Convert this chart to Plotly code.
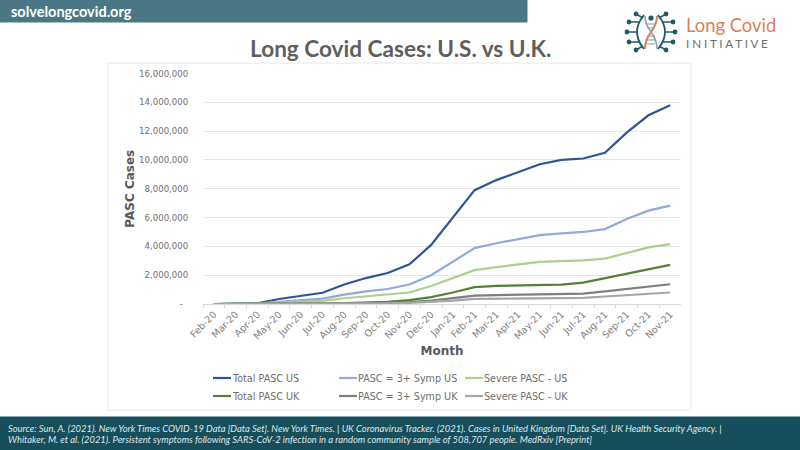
import plotly.graph_objects as go

months = ["Feb-20", "Mar-20", "Apr-20", "May-20", "Jun-20", "Jul-20", "Aug-20", "Sep-20",
          "Oct-20", "Nov-20", "Dec-20", "Jan-21", "Feb-21", "Mar-21", "Apr-21", "May-21",
          "Jun-21", "Jul-21", "Aug-21", "Sep-21", "Oct-21", "Nov-21"]

total_us = [0, 5000, 40000, 350000, 550000, 780000, 1350000, 1800000, 2150000, 2750000, 4100000,
            6000000, 7900000, 8600000, 9150000, 9700000, 10000000, 10100000, 10500000, 11900000,
            13100000, 13800000]
symp_us = [0, 2000, 20000, 150000, 250000, 370000, 650000, 880000, 1040000, 1350000, 2000000,
           2950000, 3880000, 4220000, 4480000, 4780000, 4900000, 5000000, 5200000, 5900000,
           6480000, 6830000]
severe_us = [0, 1000, 10000, 90000, 150000, 220000, 400000, 540000, 640000, 800000, 1250000,
             1800000, 2350000, 2560000, 2720000, 2920000, 2970000, 3030000, 3150000, 3560000,
             3930000, 4150000]
total_uk = [0, 0, 5000, 20000, 40000, 50000, 60000, 90000, 150000, 270000, 480000, 800000,
            1170000, 1260000, 1300000, 1300000, 1350000, 1480000, 1800000, 2100000, 2400000,
            2720000]
symp_uk = [0, 0, 2000, 10000, 20000, 25000, 30000, 45000, 75000, 130000, 240000, 400000, 580000,
           620000, 640000, 640000, 660000, 720000, 880000, 1030000, 1180000, 1370000]
severe_uk = [0, 0, 1000, 5000, 10000, 15000, 18000, 25000, 45000, 80000, 140000, 240000, 350000,
             370000, 380000, 380000, 390000, 430000, 520000, 600000, 700000, 800000]

y_ticks = [0, 2000000, 4000000, 6000000, 8000000, 10000000, 12000000, 14000000, 16000000]
y_labels = ["-\u00a0\u00a0", "2,000,000", "4,000,000", "6,000,000", "8,000,000", "10,000,000", "12,000,000",
            "14,000,000", "16,000,000"]

series = [("Total PASC US", total_us, "#2f5597"),
          ("PASC = 3+ Symp US", symp_us, "#8faadc"),
          ("Severe PASC - US", severe_us, "#a9d18e"),
          ("Total PASC UK", total_uk, "#548235"),
          ("PASC = 3+ Symp UK", symp_uk, "#7f7f7f"),
          ("Severe PASC - UK", severe_uk, "#a6a6a6")]

W, H = 800, 450
GREY = "#7f7f7f"
TEAL = "#174e5b"
ORANGE = "#d9805a"
LOGO = "#1f5a66"


def px(x):
    return x / W


def py(y):
    return 1 - y / H


def rect(x0, y0, x1, y1, fill, line=None):
    return dict(type="rect", xref="paper", yref="paper", x0=px(x0), x1=px(x1), y0=py(y0), y1=py(y1),
                fillcolor=fill, line=dict(color=line or fill, width=1), layer="below")


def seg(x0, y0, x1, y1, color, width=2):
    return dict(type="line", xref="paper", yref="paper", x0=px(x0), x1=px(x1), y0=py(y0), y1=py(y1),
                line=dict(color=color, width=width))


def dot(x, y, r, color):
    return dict(type="circle", xref="paper", yref="paper", x0=px(x - r), x1=px(x + r),
                y0=py(y + r), y1=py(y - r), fillcolor=color, line=dict(color=color, width=0))


def curve(points, color, width=1.5):
    # points: start, then control/end pairs for quadratic beziers
    d = f"M {px(points[0][0])} {py(points[0][1])}"
    for c, e in zip(points[1::2], points[2::2]):
        d += f" Q {px(c[0])} {py(c[1])} {px(e[0])} {py(e[1])}"
    return dict(type="path", xref="paper", yref="paper", path=d, line=dict(color=color, width=width))


def label(x, y, text, size, color, anchor="left", family="DejaVu Sans"):
    return dict(xref="paper", yref="paper", x=px(x), y=py(y), text=text, showarrow=False,
                xanchor=anchor, yanchor="middle", font=dict(size=size, color=color, family=family))


fig = go.Figure()
for name, values, color in series:
    fig.add_trace(go.Scatter(x=months, y=values, name=name, mode="lines",
                             line=dict(color=color, width=2.2), showlegend=False))

shapes = [rect(0, 0, 527, 22, "#4a7884"),
          rect(0, 417, 800, 450, TEAL),
          rect(108, 63, 691, 410, "white", "#e8e8e8")]
annotations = [label(9, 11, "<b>solvelongcovid.org</b>", 14.5, "white", family="Lato"),
               label(400, 48, "<b>Long Covid Cases: U.S. vs U.K.</b>", 22.6, "#5f5f5f", "center", "Lato"),
               label(6, 428, "<i>Source: Sun, A. (2021). New York Times COVID-19 Data [Data Set]. New York Times. | "
                     "UK Coronavirus Tracker. (2021). Cases in United Kingdom [Data Set]. UK Health Security Agency. |</i>",
                     9.4, "#dfe9eb", family="Lato"),
               label(6, 439, "<i>Whitaker, M. et al. (2021). Persistent symptoms following SARS-CoV-2 infection "
                     "in a random community sample of 508,707 people. MedRxiv [Preprint]</i>",
                     9.4, "#dfe9eb", family="Lato"),
               label(684, 25, "Long Covid", 18.4, ORANGE, family="Lato"),
               label(684, 43, "I N I T I A T I V E", 11.6, "#6b6b6b", family="Lato")]

# legend, two rows of three, placed like the original
legend_x = [213, 339, 465]
legend_y = [378, 396]
for i, (name, values, color) in enumerate(series):
    lx = legend_x[i % 3]
    ly = legend_y[i // 3]
    shapes.append(seg(lx, ly, lx + 18, ly, color, 2.2))
    annotations.append(label(lx + 17, ly, name, 9.6, "#6f6f6f"))

# logo: virus ring with spikes around a dna strand
for x0, y0, x1, y1 in [(643, 18, 636, 14), (639, 22, 629, 22), (636, 32, 627, 32), (639, 42, 629, 42),
                       (643, 46, 636, 50), (659, 18, 666, 14), (663, 22, 673, 22), (666, 32, 675, 32),
                       (663, 42, 673, 42), (659, 46, 666, 50)]:
    shapes.append(seg(x0, y0, x1, y1, LOGO, 1.5))
    shapes.append(dot(x1, y1, 2.4, LOGO))
shapes.append(curve([(644, 15), (630, 32), (644, 49)], LOGO, 1.8))
shapes.append(curve([(658, 15), (672, 32), (658, 49)], LOGO, 1.8))
shapes.append(curve([(657, 16), (657, 24), (651, 32), (645, 40), (645, 49)], ORANGE, 2))
shapes.append(curve([(645, 16), (645, 24), (651, 32), (657, 40), (657, 49)], "#8a9a9e", 1.5))
for y in [24, 28, 36, 40, 44]:
    shapes.append(seg(647, y, 655, y, "#8a9a9e", 1))
shapes.append(dot(651, 18, 2.6, LOGO))

fig.update_layout(width=W, height=H, margin=dict(l=0, r=0, t=0, b=0), paper_bgcolor="white",
                  plot_bgcolor="white", showlegend=False, shapes=shapes, annotations=annotations,
                  font=dict(family="DejaVu Sans", color=GREY))
fig.update_xaxes(domain=[px(203), px(681)], anchor="y", type="category", range=[-0.5, 21.5],
                 tickson="boundaries", ticks="outside", ticklen=3, tickcolor="#d9d9d9",
                 tickangle=-45, tickfont=dict(size=9.6, color=GREY), showgrid=False,
                 showline=True, linecolor="#d9d9d9", automargin=False,
                 title=dict(text="<b>Month</b>", font=dict(size=12, color="#595959"), standoff=6))
# transparent long ticks keep the labels 15px off the plot like the original
fig.update_yaxes(domain=[py(304), py(73.5)], anchor="x", range=[0, 16000000], tickvals=y_ticks,
                 ticktext=y_labels, tickfont=dict(size=8.6, color="#6f6f6f"), ticks="outside",
                 ticklen=12, tickcolor="rgba(0,0,0,0)",
                 showgrid=True, gridcolor="#e6e6e6", gridwidth=1, showline=False, zeroline=False,
                 automargin=False,
                 title=dict(text="<b>PASC Cases</b>", font=dict(size=12, color="#595959"), standoff=1))

# body margin off so the figure fills the 800x450 window
fig.write_html("out.html", config={"displayModeBar": False},
               post_script="document.body.style.margin='0';")
